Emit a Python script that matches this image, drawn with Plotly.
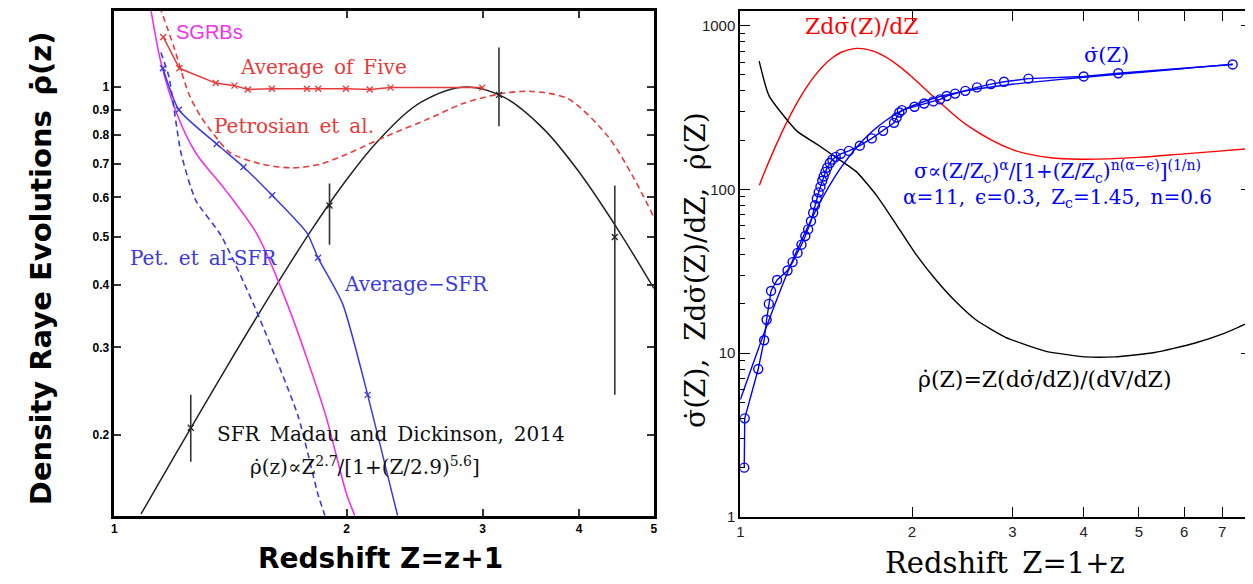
import plotly.graph_objects as go

# ---------------- Left panel data ----------------
sfr_z = [1.083, 1.2, 1.4, 1.6, 1.8, 2.0, 2.2, 2.5, 2.86, 3.2, 3.6, 4.0, 4.5, 5.0]
sfr_rho = [0.139, 0.183, 0.275, 0.387, 0.516, 0.652, 0.782, 0.933, 1.0, 0.953, 0.823, 0.675, 0.515, 0.394]

avg5_z = [1.157, 1.214, 1.353, 1.431, 1.489, 1.600, 1.776, 1.837, 1.995, 2.142, 2.279, 2.997]
avg5_rho = [1.26, 1.09, 1.018, 1.006, 0.988, 0.992, 0.992, 0.992, 0.992, 0.988, 0.997, 0.997]

pet_z = [1.145, 1.195, 1.249, 1.294, 1.361, 1.414, 1.546, 1.70, 1.85, 2.0, 2.25, 2.557, 2.822, 3.15, 3.45, 3.87, 4.36, 4.69, 5.0]
pet_rho = [1.45, 1.20, 0.968, 0.872, 0.785, 0.737, 0.701, 0.688, 0.700, 0.733, 0.796, 0.864, 0.925, 0.968, 0.98, 0.947, 0.796, 0.664, 0.548]

sgrb_z = [1.116, 1.149, 1.202, 1.275, 1.394, 1.532, 1.675, 1.874, 2.0, 2.049]
sgrb_rho = [1.42, 1.121, 0.892, 0.737, 0.620, 0.505, 0.367, 0.222, 0.152, 0.138]

petsfr_z = [1.149, 1.177, 1.220, 1.275, 1.373, 1.514, 1.729, 1.836, 1.874]
petsfr_rho = [1.173, 1.047, 0.737, 0.592, 0.505, 0.367, 0.219, 0.152, 0.138]

avgsfr_z = [1.156, 1.212, 1.357, 1.470, 1.601, 1.777, 1.836, 1.976, 2.129, 2.292, 2.328]
avgsfr_rho = [1.090, 0.900, 0.768, 0.691, 0.606, 0.509, 0.454, 0.367, 0.241, 0.152, 0.138]
avgsfr_mark_z = [1.156, 1.212, 1.357, 1.470, 1.601, 1.836, 2.129]
avgsfr_mark_rho = [1.090, 0.900, 0.768, 0.691, 0.606, 0.454, 0.241]

eb_z = [1.256, 1.90, 3.15, 4.45]
eb_rho = [0.207, 0.578, 0.964, 0.50]
eb_hi = [0.241, 0.64, 1.20, 0.634]
eb_lo = [0.177, 0.482, 0.834, 0.241]

left_yticks = [0.2, 0.3, 0.4, 0.5, 0.6, 0.7, 0.8, 0.9, 1]
left_yticktext = ["0.2", "0.3", "0.4", "0.5", "0.6", "0.7", "0.8", "0.9", "1"]
left_xticks = [1, 2, 3, 4, 5]

# ---------------- Right panel data ----------------
sig_z = [1.016, 1.018, 1.075, 1.101, 1.112, 1.122, 1.132, 1.16, 1.21, 1.235, 1.26, 1.28, 1.30, 1.315,
         1.33, 1.342, 1.352, 1.362, 1.372, 1.382, 1.392, 1.40, 1.41, 1.42, 1.435, 1.45, 1.47, 1.50,
         1.55, 1.62, 1.70, 1.78, 1.86, 1.88, 1.90, 1.92, 2.02, 2.10, 2.18, 2.24, 2.30, 2.38, 2.48,
         2.60, 2.75, 2.90, 3.20, 4.00, 4.60, 7.30]
sig_val = [2, 4, 8, 12, 16, 20, 24, 28, 32, 36, 41, 46, 52, 57,
           64, 72, 80, 88, 96, 104, 113, 120, 128, 136, 145, 152, 158, 165,
           172, 185, 205, 228, 255, 275, 295, 305, 320, 335, 345, 355, 372, 385, 400,
           420, 440, 455, 475, 490, 512, 580]

fit_z = [1.0, 1.05, 1.1, 1.15, 1.2, 1.25, 1.3, 1.35, 1.4, 1.45, 1.5, 1.6, 1.7, 1.8, 1.9, 2.0,
         2.2, 2.5, 3.0, 3.5, 4.0, 5.0, 6.0, 7.0, 7.3]
fit_val = [5.2, 8.4, 13.2, 19.9, 29.0, 40.6, 55.0, 72.1, 91.5, 112.8, 135.3, 181.2, 224.8, 263.5,
           296.2, 323.2, 363.2, 401.2, 438.7, 463.4, 484.7, 517.7, 548.2, 574, 581]

red_z = [1.08, 1.1, 1.15, 1.2, 1.25, 1.3, 1.35, 1.4, 1.45, 1.5, 1.6, 1.7, 1.8, 1.9, 2.0, 2.2,
         2.5, 3.0, 3.5, 4.0, 5.0, 6.0, 7.0, 7.86]
red_val = [106, 125, 180, 248, 326, 410, 494, 572, 637, 686, 727, 704, 642, 564, 486, 359,
           246, 175, 156, 153, 157, 165, 172, 178]

blk_z = [1.079, 1.123, 1.257, 1.362, 1.476, 1.599, 1.733, 1.877, 2.034, 2.204, 2.388, 2.588,
         2.919, 3.425, 4.022, 4.537, 5.326, 6.254, 7.055, 7.863]
blk_val = [607, 373, 227, 189, 156, 128, 92, 61, 40, 28, 20.6, 16, 12.5, 10.3, 9.5, 9.5,
           10.1, 11.5, 13.2, 15.6]

right_yticks = [1, 10, 100, 1000]
right_yminor = [2, 3, 4, 5, 6, 7, 8, 9, 20, 30, 40, 50, 60, 70, 80, 90,
                200, 300, 400, 500, 600, 700, 800, 900]
right_xticks = [1, 2, 3, 4, 5, 6, 7]

RED_L = "#e83a3a"
BLUE_L = "#3a3ae0"
MAG = "#ee33ee"
SERIF = "DejaVu Serif"
SP = "\u2002"

fig = go.Figure()

# ---- left traces ----
fig.add_trace(go.Scatter(x=sfr_z, y=sfr_rho, mode="lines", line=dict(color="#222", width=1.5, shape="spline"),
                         xaxis="x", yaxis="y", showlegend=False))
fig.add_trace(go.Scatter(x=pet_z, y=pet_rho, mode="lines",
                         line=dict(color=RED_L, width=1.6, dash="6px,4px", shape="spline", smoothing=0.8),
                         xaxis="x", yaxis="y", showlegend=False))
fig.add_trace(go.Scatter(x=avg5_z, y=avg5_rho, mode="lines+markers", line=dict(color=RED_L, width=1.5),
                         marker=dict(symbol="x-thin", size=6, line=dict(width=1.3, color=RED_L)),
                         xaxis="x", yaxis="y", showlegend=False))
fig.add_trace(go.Scatter(x=sgrb_z, y=sgrb_rho, mode="lines", line=dict(color=MAG, width=1.6, shape="spline", smoothing=0.8),
                         xaxis="x", yaxis="y", showlegend=False))
fig.add_trace(go.Scatter(x=petsfr_z, y=petsfr_rho, mode="lines",
                         line=dict(color=BLUE_L, width=1.6, dash="6px,4px", shape="spline", smoothing=0.6),
                         xaxis="x", yaxis="y", showlegend=False))
fig.add_trace(go.Scatter(x=avgsfr_z, y=avgsfr_rho, mode="lines", line=dict(color=BLUE_L, width=1.5, shape="spline", smoothing=0.6),
                         xaxis="x", yaxis="y", showlegend=False))
fig.add_trace(go.Scatter(x=avgsfr_mark_z, y=avgsfr_mark_rho, mode="markers",
                         marker=dict(symbol="x-thin", size=6, line=dict(width=1.3, color=BLUE_L)),
                         xaxis="x", yaxis="y", showlegend=False))
fig.add_trace(go.Scatter(x=eb_z, y=eb_rho, mode="markers",
                         marker=dict(symbol="x-thin", size=6, line=dict(width=1.3, color="#222")),
                         error_y=dict(type="data", symmetric=False,
                                      array=[h - c for h, c in zip(eb_hi, eb_rho)],
                                      arrayminus=[c - l for c, l in zip(eb_rho, eb_lo)],
                                      width=0, thickness=1.6, color="#333"),
                         xaxis="x", yaxis="y", showlegend=False))

# ---- right traces ----
fig.add_trace(go.Scatter(x=red_z, y=red_val, mode="lines", line=dict(color="#ff0000", width=1.4, shape="spline"),
                         xaxis="x2", yaxis="y2", showlegend=False))
fig.add_trace(go.Scatter(x=blk_z, y=blk_val, mode="lines", line=dict(color="#000", width=1.4, shape="spline", smoothing=0.5),
                         xaxis="x2", yaxis="y2", showlegend=False))
fig.add_trace(go.Scatter(x=fit_z, y=fit_val, mode="lines", line=dict(color="#0000ff", width=1.4, shape="spline"),
                         xaxis="x2", yaxis="y2", showlegend=False))
fig.add_trace(go.Scatter(x=sig_z, y=sig_val, mode="lines+markers", line=dict(color="#0000ff", width=1.4),
                         marker=dict(symbol="circle-open", size=9, color="#0000ff", line=dict(width=1.4)),
                         xaxis="x2", yaxis="y2", showlegend=False))

W, H = 1253, 584
def px(x): return x / W
def py(y): return 1 - y / H

axis_common = dict(showline=True, linecolor="black", mirror="ticks", ticks="inside",
                   showgrid=False, zeroline=False)

fig.update_layout(
    width=W, height=H, margin=dict(l=0, r=0, t=0, b=0),
    paper_bgcolor="white", plot_bgcolor="white",
    xaxis=dict(type="log", range=[0, 0.69897], domain=[px(103), px(646)], anchor="y",
               tickvals=left_xticks, ticktext=[str(v) for v in left_xticks],
               linewidth=2.5, ticklen=7, tickwidth=1.5, tickcolor="#333",
               tickfont=dict(family="Liberation Sans", size=12, color="black", weight="bold"),
               **axis_common),
    yaxis=dict(type="log", range=[-0.861, 0.1525], domain=[py(515), py(3)], anchor="x",
               tickvals=left_yticks, ticktext=left_yticktext,
               linewidth=2.5, ticklen=7, tickwidth=1.5, tickcolor="#333",
               tickfont=dict(family="Liberation Sans", size=12, color="black", weight="bold"),
               **axis_common),
    xaxis2=dict(type="log", range=[0, 0.8955], domain=[px(733), px(1247)], anchor="y2",
                tickvals=right_xticks, ticktext=[str(v) for v in right_xticks],
                linewidth=2, ticklen=10, tickwidth=1.3, tickcolor="black",
                tickfont=dict(family="Liberation Sans", size=15, color="#222"),
                **axis_common),
    yaxis2=dict(type="log", range=[0, 3.09], domain=[py(516), py(3)], anchor="x2",
                tickvals=right_yticks, ticktext=[str(v) for v in right_yticks],
                linewidth=2, ticklen=10, tickwidth=1.3, tickcolor="black",
                tickfont=dict(family="Liberation Sans", size=15, color="#222"),
                minor=dict(tickvals=right_yminor, ticks="inside", ticklen=5, tickwidth=1, tickcolor="black"),
                **axis_common),
)

def ann(text, x, y, size, color="black", family=SERIF, angle=0, weight="normal"):
    fig.add_annotation(text=text, x=px(x), y=py(y), xref="paper", yref="paper",
                       showarrow=False, xanchor="center", yanchor="middle", textangle=angle,
                       font=dict(family=family, size=size, color=color, weight=weight))

# Left panel texts
ann("Density Raye Evolutions" + SP + "\u03c1\u0307(z)", 30, 264, 29, family="DejaVu Sans", angle=-90, weight="bold")
ann("Redshift Z=z+1", 371, 558, 28, family="DejaVu Sans", weight="bold")
ann("SGRBs", 199, 24, 20, color=MAG, family="Liberation Sans")
ann("Average" + SP + "of" + SP + "Five", 313, 60, 20, color=RED_L)
ann("Petrosian" + SP + "et" + SP + "al.", 284, 120, 20, color=RED_L)
ann("Pet." + SP + "et" + SP + "al-SFR", 193, 253, 20, color=BLUE_L)
ann("Average\u2212SFR", 407, 280, 20, color=BLUE_L)
ann("SFR" + SP + "Madau" + SP + "and" + SP + "Dickinson," + SP + "2014", 381, 432, 20, color="#111")
ann("\u03c1\u0307(z)\u221dZ<sup>2.7</sup>/[1+(Z/2.9)<sup>5.6</sup>]", 355, 464, 20, color="#111")

# Right panel texts
ann("\u03c3\u0307(Z),  Zd\u03c3\u0307(Z)/dZ,  \u03c1\u0307(Z)", 688, 266, 28, angle=-90)
ann("Redshift" + SP + "Z=1+z", 999, 563, 29)
ann("Zd\u03c3\u0307(Z)/dZ", 855, 19, 22, color="#ff0000")
ann("\u03c3\u0307(Z)", 1102, 48, 21, color="#0000ff")
ann("\u03c3\u221d(Z/Z<sub>c</sub>)<sup>\u03b1</sup>/[1+(Z/Z<sub>c</sub>)<sup>n(\u03b1\u2212\u03f5)</sup>]<sup>(1/n)</sup>",
    1052, 166, 20, color="#0000ff")
ann("\u03b1=11," + SP + "\u03f5=0.3," + SP + "Z<sub>c</sub>=1.45," + SP + "n=0.6", 1052, 193, 20, color="#0000ff")
ann("\u03c1\u0307(Z)=Z(d\u03c3\u0307/dZ)/(dV/dZ)", 1039, 377, 22, color="#000")

fig.write_html("out.html")
